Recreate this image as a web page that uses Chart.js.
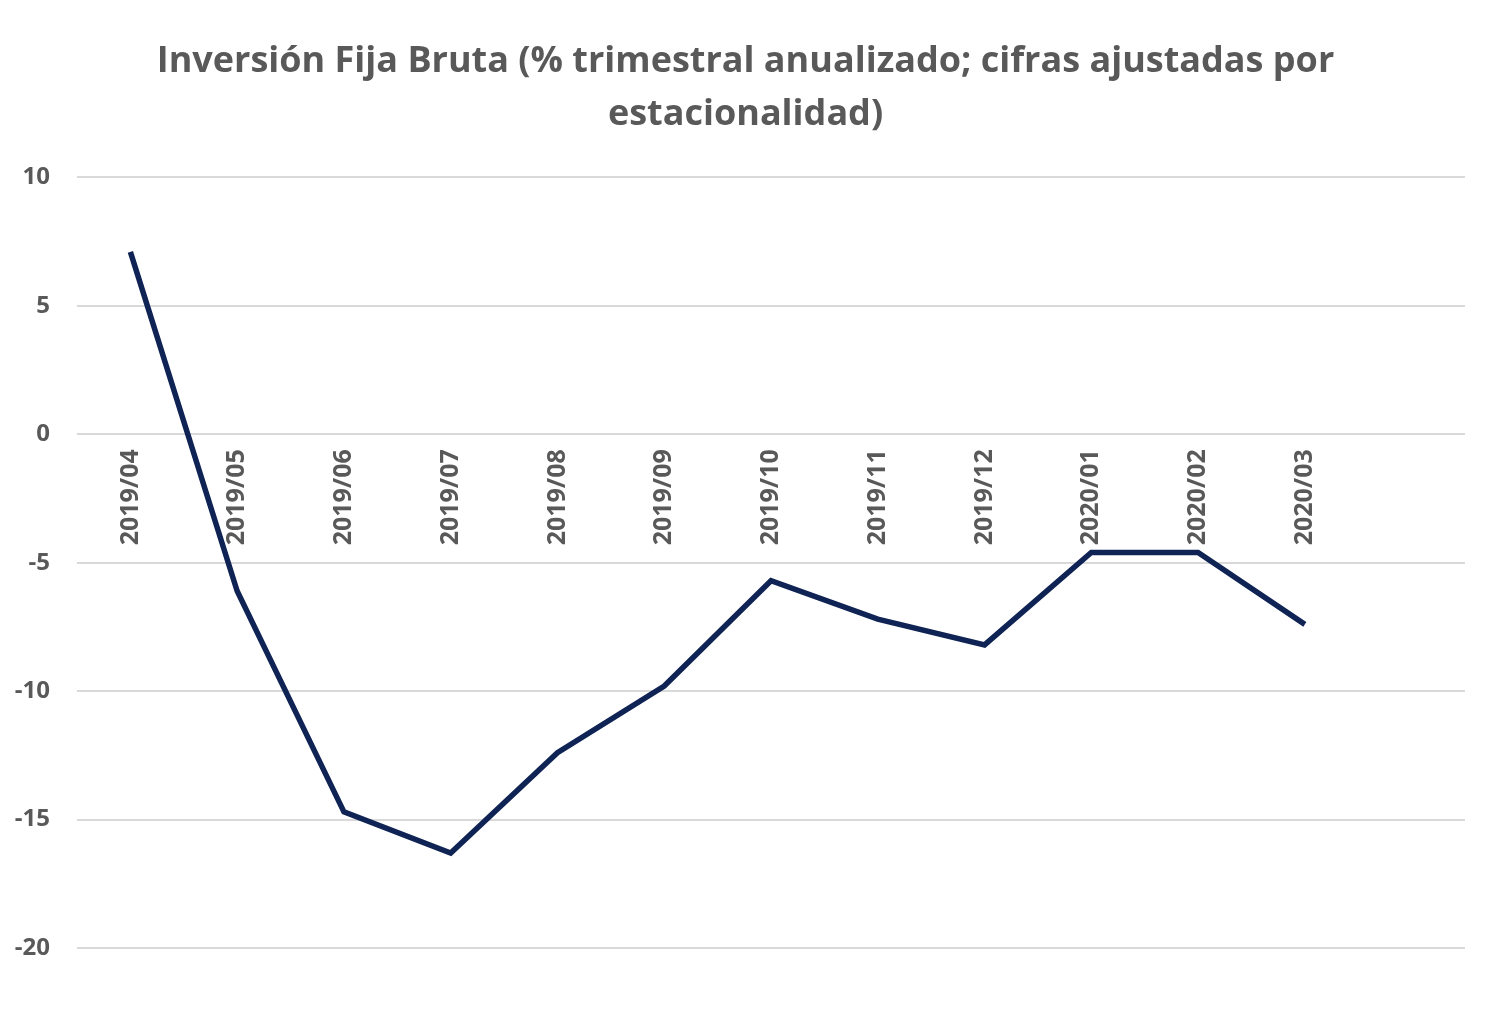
<!DOCTYPE html>
<html>
<head>
<meta charset="utf-8">
<script src="https://cdn.jsdelivr.net/npm/chart.js@4.4.1/dist/chart.umd.min.js"></script>
<style>
  html, body { margin: 0; padding: 0; background: #fff; }
  #wrap { width: 1502px; height: 1024px; }
</style>
</head>
<body>
<div id="wrap"><canvas id="inversion_chart" width="1502" height="1024"></canvas></div>
<script>
// datos
var periodos = ['2019/04', '2019/05', '2019/06', '2019/07', '2019/08', '2019/09',
                '2019/10', '2019/11', '2019/12', '2020/01', '2020/02', '2020/03', ''];
var inversion = [7.1, -6.1, -14.7, -16.3, -12.4, -9.8, -5.7, -7.2, -8.2, -4.6, -4.6, -7.4, null];
var yTicks = [10, 5, 0, -5, -10, -15, -20];

var gris = '#595959';
var fuente = "'Open Sans', 'Noto Sans', sans-serif";

// corre un poco el titulo a la derecha (como en el original)
var moverTitulo = {
    id: 'moverTitulo',
    afterLayout: function (chart) {
        if (chart.titleBlock) {
            chart.titleBlock.left += 26;
        }
    }
};

var ctx = document.getElementById('inversion_chart').getContext('2d');
var inversionChart = new Chart(ctx, {
    type: 'line',
    data: {
        labels: periodos,
        datasets: [{
            label: 'Inversión Fija Bruta',
            data: inversion,
            borderColor: '#0f2454',
            borderWidth: 5.5,
            pointRadius: 0,
            tension: 0,
            fill: false
        }]
    },
    options: {
        responsive: false,
        animation: false,
        layout: { padding: { top: 0, left: 0, right: 37, bottom: 76 } },
        plugins: {
            legend: { display: false },
            tooltip: { enabled: false },
            title: {
                display: true,
                text: ['Inversión Fija Bruta (% trimestral anualizado; cifras ajustadas por', 'estacionalidad)'],
                color: gris,
                font: { family: fuente, size: 36, weight: 'bold', lineHeight: 1.45 },
                padding: { top: 36, bottom: 37 }
            }
        },
        scales: {
            x: {
                position: { y: 0 },
                offset: true,
                grid: { display: false, drawTicks: false },
                border: { display: false },
                ticks: {
                    color: gris,
                    autoSkip: false,
                    minRotation: 90,
                    maxRotation: 90,
                    padding: 15,
                    font: { family: fuente, size: 25, weight: 'bold' }
                }
            },
            y: {
                min: -20,
                max: 10,
                afterBuildTicks: function (scale) {
                    scale.ticks = yTicks.map(function (v) { return { value: v }; });
                },
                afterFit: function (scale) { scale.width = 77; },
                grid: { color: '#d9d9d9', lineWidth: 2, drawTicks: false },
                border: { display: false },
                ticks: {
                    color: gris,
                    padding: 27,
                    font: { family: fuente, size: 24, weight: 'bold' }
                }
            }
        }
    },
    plugins: [moverTitulo]
});
</script>
</body>
</html>
